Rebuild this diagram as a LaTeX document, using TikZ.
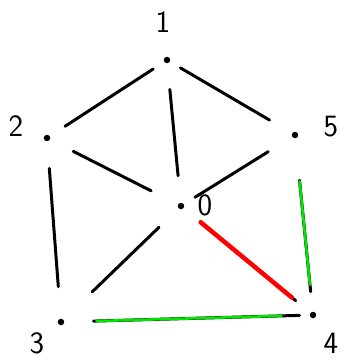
\documentclass[tikz,border=0pt]{standalone}
\usepackage{fontspec}
\setmainfont{DejaVu Sans}
\begin{document}
\begin{tikzpicture}[x=1pt,y=-1pt,
  vdot/.style={circle,fill=black,inner sep=0pt,minimum size=6.5pt},
  vlabel/.style={font=\fontsize{31}{31}\selectfont\sffamily,inner sep=0pt},
  edge/.style={line width=3pt,line cap=round},
  hlgreen/.style={line width=2.6pt,line cap=round,green!90!black},
  hlred/.style={line width=4.5pt,line cap=round,red}]
\useasboundingbox (0,0) rectangle (347,360);
% vertices
\node[vdot] (v1) at (167,60) {};
\node[vdot] (v2) at (47,138) {};
\node[vdot] (v5) at (295,135) {};
\node[vdot] (v0) at (181,206) {};
\node[vdot] (v3) at (61,322) {};
\node[vdot] (v4) at (313,315) {};
% labels
\node[vlabel] (l1) at (163,22) {1};
\node[vlabel] (l2) at (16,126) {2};
\node[vlabel] (l5) at (331,127) {5};
\node[vlabel] (l0) at (205,205) {0};
\node[vlabel] (l3) at (37,343) {3};
\node[vlabel] (l4) at (331,343) {4};
% edges
\draw[edge,shorten <=13pt,shorten >=18pt] (v1) -- (v2);
\draw[edge,shorten <=12pt,shorten >=26pt] (v1) -- (v5);
\draw[edge,shorten <=26pt,shorten >=27pt] (v1) -- (v0);
\draw[edge,shorten <=26pt,shorten >=30pt] (v2) -- (v0);
\draw[edge,shorten <=28pt,shorten >=13pt] (v5) -- (v0);
\draw[edge,shorten <=27pt,shorten >=32pt] (v2) -- (v3);
\draw[edge,shorten <=27pt,shorten >=40pt] (v0) -- (v3);
\draw[edge,shorten <=22pt,shorten >=19pt] (v0) -- (v4);
\draw[edge,shorten <=42pt,shorten >=20pt] (v5) -- (v4);
\draw[edge,shorten <=29pt,shorten >=10pt] (v3) -- (v4);
% highlights
\draw[hlred,shorten <=22pt,shorten >=24pt] (v0) -- (v4);
\draw[hlgreen,shorten <=43pt,shorten >=27pt] (v5) -- (v4);
\draw[hlgreen,shorten <=32pt,shorten >=28pt] (v3) -- (v4);
\end{tikzpicture}
\end{document}
